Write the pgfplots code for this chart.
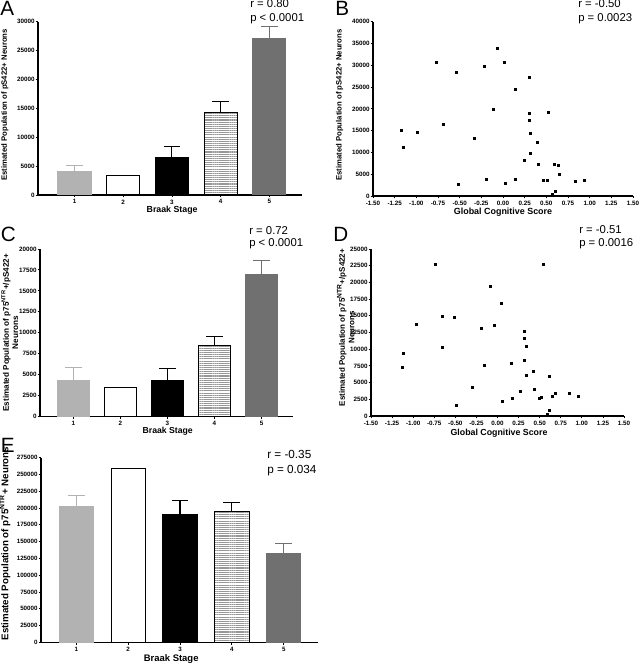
\documentclass[border=0pt]{standalone}
\usepackage{fontspec}
\setmainfont{Liberation Sans}
\usepackage{pgfplots}
\pgfplotsset{compat=1.18}
\usetikzlibrary{patterns.meta}

\definecolor{lgray}{RGB}{178,178,178}
\definecolor{dgray}{RGB}{112,112,112}
\definecolor{stripe}{RGB}{150,150,150}

\pgfplotsset{
  gp/.style={
    scale only axis, anchor=south west,
    axis x line*=bottom, axis y line*=left,
    axis line style={line width=0.8pt},
    tick align=outside, major tick length=1.8pt,
    tick style={line width=0.6pt, black},
    ymin=0,
    /pgf/number format/assume math mode=true,
    /pgf/number format/fixed,
    /pgf/number format/1000 sep={},
    scaled y ticks=false, scaled x ticks=false,
    tick label style={font=\fontsize{4.7}{5}\selectfont\bfseries},
    yticklabel style={inner xsep=0.6pt},
    xticklabel style={inner ysep=1.5pt},
    clip=false,
  },
  bars/.style={gp, xtick={1,2,3,4,5}},
  sc/.style={gp, xmin=-1.5, xmax=1.5, xtick={-1.5,-1.25,...,1.5},
    xticklabel style={/pgf/number format/.cd, fixed, fixed zerofill, precision=2}},
  errs/.style={error bars/.cd, y dir=plus, y explicit,
    error bar style={#1, line width=0.8pt},
    error mark options={rotate=90, #1, line width=0.8pt, mark size=6.3pt}},
  b1/.style={ybar, bar shift=0pt, fill=lgray, draw=lgray, line width=0.75pt, errs=lgray},
  b2/.style={ybar, bar shift=0pt, fill=white, draw=black, line width=0.75pt},
  b3/.style={ybar, bar shift=0pt, fill=black, draw=black, line width=0.75pt, errs=black},
  b4/.style={ybar, bar shift=0pt, pattern={Lines[angle=0,distance=1.6pt,line width=0.8pt]}, pattern color=stripe, draw=black, line width=0.75pt, errs=black},
  b5/.style={ybar, bar shift=0pt, fill=dgray, draw=dgray, line width=0.75pt, errs=dgray},
  pts/.style={only marks, mark=square*, mark size=0.75pt, black},
}

\begin{document}
\begin{tikzpicture}
\useasboundingbox (0,0) rectangle (480pt,498pt);

% ---------- A ----------
\begin{axis}[bars, at={(28.5pt,351.75pt)}, width=198pt, height=130pt,
  xmin=0.25, xmax=5.67, ymax=30000, ytick={0,5000,...,30000},
  bar width=0.68,
  xlabel={Braak Stage}, ylabel={Estimated Population of pS422+ Neurons},
  xlabel style={font=\fontsize{6.6}{7}\selectfont\bfseries, at={(axis description cs:0.508,-0.087)}, anchor=center},
  ylabel style={font=\fontsize{5.8}{6.5}\selectfont\bfseries, at={(axis description cs:-0.125,0.52)}, anchor=center}]
\addplot[b1] coordinates {(1,4000) +- (0,1150)};
\addplot[b2] coordinates {(2,3300)};
\addplot[b3] coordinates {(3,6450) +- (0,1900)};
\addplot[b4] coordinates {(4,14250) +- (0,1950)};
\addplot[b5] coordinates {(5,27100) +- (0,2000)};
\end{axis}

% ---------- B ----------
\begin{axis}[sc, at={(279.75pt,351pt)}, width=195pt, height=130.7pt,
  ymax=40000, ytick={0,5000,...,40000},
  xlabel={Global Cognitive Score}, ylabel={Estimated Population of pS422+ Neurons},
  xlabel style={font=\fontsize{6.7}{7}\selectfont\bfseries, at={(axis description cs:0.5,-0.092)}, anchor=center},
  ylabel style={font=\fontsize{5.8}{6.5}\selectfont\bfseries, at={(axis description cs:-0.128,0.522)}, anchor=center}]
\addplot[pts] table {
x y
-1.17 15050
-1.15 11300
-0.99 14700
-0.77 30750
-0.69 16450
-0.54 28400
-0.52 2600
-0.33 13150
-0.22 29750
-0.19 3900
-0.11 20000
-0.07 33800
0.01 30600
0.03 3000
0.14 24450
0.14 3900
0.25 8100
0.30 27150
0.30 18950
0.30 17350
0.31 14300
0.32 9800
0.40 12300
0.41 7350
0.47 3500
0.51 3500
0.52 19250
0.57 450
0.60 1000
0.59 7200
0.64 7050
0.65 4950
0.83 3350
0.94 3600
};
\end{axis}

% ---------- C ----------
\begin{axis}[bars, at={(30pt,185.5pt)}, width=189.75pt, height=125.8pt,
  xmin=0.29, xmax=5.67, ymax=20000, ytick={0,2500,...,20000},
  bar width=0.67,
  xlabel={Braak Stage}, ylabel={Estimated Population of p75\textsuperscript{NTR}+/pS422+\\Neurons},
  xlabel style={font=\fontsize{6.5}{7}\selectfont\bfseries, at={(axis description cs:0.505,-0.085)}, anchor=center},
  ylabel style={font=\fontsize{6.1}{7}\selectfont\bfseries, align=center, at={(axis description cs:-0.119,0.5)}, anchor=center}]
\addplot[b1] coordinates {(1,4330) +- (0,1500)};
\addplot[b2] coordinates {(2,3420)};
\addplot[b3] coordinates {(3,4330) +- (0,1430)};
\addplot[b4] coordinates {(4,8430) +- (0,1110)};
\addplot[b5] coordinates {(5,16900) +- (0,1750)};
\end{axis}

% ---------- D ----------
\begin{axis}[sc, at={(278.25pt,186pt)}, width=189.75pt, height=125.25pt,
  ymax=25000, ytick={0,2500,...,25000},
  xlabel={Global Cognitive Score}, ylabel={Estimated Population of p75\textsuperscript{NTR}+/pS422+\\Neurons},
  xlabel style={font=\fontsize{6.6}{7}\selectfont\bfseries, at={(axis description cs:0.506,-0.104)}, anchor=center},
  ylabel style={font=\fontsize{6.0}{7}\selectfont\bfseries, align=center, at={(axis description cs:-0.1,0.53)}, anchor=center}]
\addplot[pts] table {
x y
-1.13 7300
-1.12 9450
-0.96 13800
-0.74 22750
-0.66 15000
-0.66 10250
-0.51 14750
-0.49 1600
-0.30 4350
-0.19 13100
-0.16 7650
-0.08 19450
-0.04 13550
0.04 16950
0.06 2150
0.16 7950
0.17 2600
0.27 3650
0.32 12650
0.32 11700
0.32 8350
0.34 10450
0.34 6100
0.42 6700
0.44 3950
0.49 2700
0.52 2800
0.54 22700
0.59 300
0.61 800
0.61 5950
0.65 2950
0.68 3400
0.85 3350
0.96 2900
};
\end{axis}

% ---------- E ----------
\begin{axis}[bars, at={(30.75pt,16.3pt)}, width=207.75pt, height=138.4pt,
  xmin=0.32, xmax=5.66, ymax=275000, ytick={0,25000,...,275000},
  bar width=0.66,
  tick label style={font=\fontsize{4.65}{5}\selectfont\bfseries},
  xlabel={Braak Stage}, ylabel={Estimated Population of p75\textsuperscript{NTR}+ Neurons},
  xlabel style={font=\fontsize{7.1}{8}\selectfont\bfseries, at={(axis description cs:0.47,-0.09)}, anchor=center},
  ylabel style={font=\fontsize{7.3}{8}\selectfont\bfseries, at={(axis description cs:-0.13,0.535)}, anchor=center}]
\addplot[b1] coordinates {(1,202500) +- (0,16400)};
\addplot[b2] coordinates {(2,259600)};
\addplot[b3] coordinates {(3,190600) +- (0,20400)};
\addplot[b4] coordinates {(4,195100) +- (0,13400)};
\addplot[b5] coordinates {(5,132000) +- (0,15400)};
\end{axis}

% ---------- panel letters and statistics ----------
\begin{scope}[every node/.style={inner sep=0pt, anchor=base west}]
\node[font=\fontsize{15.5}{16}\selectfont] at (0pt,486pt) {A};
\node[font=\fontsize{15.5}{16}\selectfont] at (251.25pt,486pt) {B};
\node[font=\fontsize{15.5}{16}\selectfont] at (0.5pt,316.9pt) {C};
\node[font=\fontsize{15.5}{16}\selectfont] at (249.75pt,316.9pt) {D};
\node[font=\fontsize{15.5}{16}\selectfont] at (0.5pt,158.25pt) {E};
\node[font=\fontsize{8.5}{10}\selectfont] at (187.5pt,492pt) {r = 0.80};
\node[font=\fontsize{8.5}{10}\selectfont] at (187.5pt,481.9pt) {p < 0.0001};
\node[font=\fontsize{8.5}{10}\selectfont] at (433.5pt,492pt) {r = -0.50};
\node[font=\fontsize{8.5}{10}\selectfont] at (433.5pt,481.7pt) {p = 0.0023};
\node[font=\fontsize{8.5}{10}\selectfont] at (186.75pt,322.3pt) {r = 0.72};
\node[font=\fontsize{8.5}{10}\selectfont] at (186.75pt,313pt) {p < 0.0001};
\node[font=\fontsize{8.5}{10}\selectfont] at (434.25pt,322.5pt) {r = -0.51};
\node[font=\fontsize{8.5}{10}\selectfont] at (434.25pt,313pt) {p = 0.0016};
\node[font=\fontsize{8.8}{10}\selectfont] at (200.25pt,153.75pt) {r = -0.35};
\node[font=\fontsize{8.8}{10}\selectfont] at (200.25pt,143pt) {p = 0.034};
\end{scope}
\end{tikzpicture}
\end{document}
